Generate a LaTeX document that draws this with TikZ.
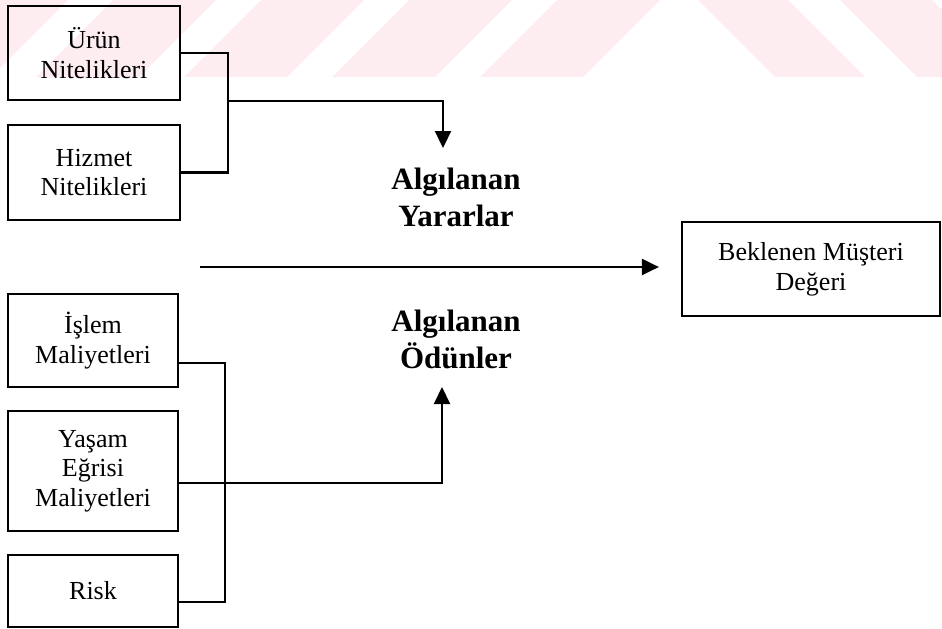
\documentclass[tikz,border=0pt]{standalone}
\usepackage{fontspec}
\setmainfont{Liberation Serif}
\usetikzlibrary{arrows.meta}

\definecolor{wmpink}{RGB}{253,236,240}

\tikzset{
  box/.style={draw, line width=1.1pt, align=center, inner sep=0pt,
    font=\fontsize{13}{14.8}\selectfont},
  head/.style={align=center, font=\bfseries\fontsize{15.5}{18.5}\selectfont},
  link/.style={line width=1.1pt},
  tip/.style={-{Triangle[length=8.5pt,width=8pt]}},
  wm/.style={fill=wmpink, draw=none}
}

\begin{document}
\begin{tikzpicture}[x=0.5pt, y=-0.5pt]
    \useasboundingbox (0, 0) rectangle (942, 628);

    % faint stripes along the top edge
    \begin{scope}
      \clip (0, 0) rectangle (942, 77);
      \foreach \a in {-35, 113, 261, 409, 557} {
        \fill[wm] (\a, 0) -- ++(103, 0) -- ++(-77, 77) -- ++(-103, 0) -- cycle;
      }
      \foreach \a/\w in {698/90, 840/92} {
        \fill[wm] (\a, 0) -- ++(\w, 0) -- ++(77, 77) -- ++(-\w, 0) -- cycle;
      }
    \end{scope}

    % input boxes
    \node[box, minimum width=86pt, minimum height=47pt] (urun) at (94, 53) {Ürün\\Nitelikleri};
    \node[box, minimum width=86pt, minimum height=47.5pt] (hizmet) at (94, 172.5) {Hizmet\\Nitelikleri};
    \node[box, minimum width=85pt, minimum height=46.5pt] (islem) at (93, 340.5) {İşlem\\Maliyetleri};
    \node[box, minimum width=85pt, minimum height=60pt] (yasam) at (93, 471) {Yaşam\\Eğrisi\\Maliyetleri};
    \node[box, minimum width=85pt, minimum height=36pt] (risk) at (93, 591) {Risk};

    % result
    \node[box, minimum width=129pt, minimum height=47pt] (deger) at (811, 269) {Beklenen Müşteri\\Değeri};

    \node[head] (yarar) at (456, 197) {Algılanan\\Yararlar};
    \node[head] (odun) at (456, 339) {Algılanan\\Ödünler};

    \coordinate (topspine) at (228, 101);
    \coordinate (lowspine) at (225, 483);
    \coordinate (yarartip) at (443, 148);
    \coordinate (oduntip) at (442, 387);
    \coordinate (midstart) at (200, 267);

    \coordinate (islemport) at ([yshift=-11.25pt]islem.east);
    \coordinate (yasamport) at ([yshift=-6pt]yasam.east);
    \coordinate (riskport) at ([yshift=-5.5pt]risk.east);

    % benefits
    \draw[link] (urun.east) -| (topspine |- hizmet.east) -- (hizmet.east);
    \draw[link, tip] (topspine) -| (yarartip);

    % sacrifices
    \draw[link] (islemport) -| (lowspine) -- (lowspine |- riskport) -- (riskport);
    \draw[link, tip] (yasamport) -| (oduntip);

    \draw[link, tip, shorten >=11pt] (midstart) -- (midstart -| deger.west);
\end{tikzpicture}
\end{document}
